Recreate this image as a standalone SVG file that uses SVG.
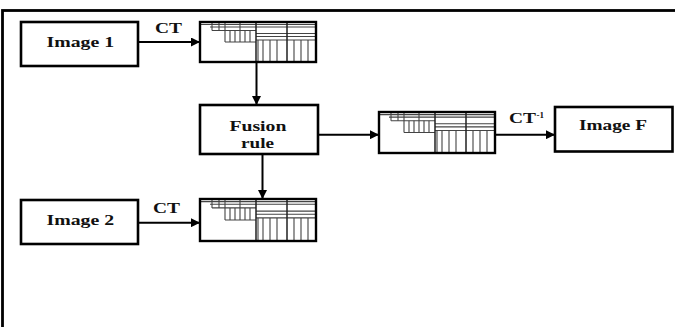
<svg xmlns="http://www.w3.org/2000/svg" xmlns:xlink="http://www.w3.org/1999/xlink" width="675" height="327" viewBox="0 0 675 327">
<style>
.box{fill:#fff;stroke:#000;stroke-width:2.6}
.tbox{fill:none;stroke:#000;stroke-width:2.4}
.g{stroke:#444;stroke-width:1.1;fill:none}
.gd{stroke:#222;stroke-width:1.5;fill:none}
.lbl{font-family:"Liberation Serif","Times New Roman",serif;font-weight:bold;font-size:15.5px;fill:#111}
.conn{stroke:#000;stroke-width:2;fill:none;marker-end:url(#ah)}
</style>
<defs>
<marker id="ah" markerUnits="userSpaceOnUse" markerWidth="9" markerHeight="9" refX="9" refY="4.5" orient="auto">
<path d="M0,0 L9,4.5 L0,9 z" fill="#000"/>
</marker>
<g id="grid">
<path class="g" d="M0,2.5H116 M10,5H116 M12,8.5H56 M56,11.5H116 M56,14.5H116 M56,18H116 M25,20H56"/>
<path class="g" d="M12,0V8.5 M19,0V8.5 M25,0V20 M30,8.5V20 M35,8.5V20 M40,0V20 M45,8.5V20 M50,8.5V20"/>
<path class="g" d="M63,18V40 M70,18V40 M77,18V40 M94,18V40 M101,18V40 M108,18V40 M58,18V40"/>
<path class="gd" d="M56,0V40 M87,0V40"/>
</g>
</defs>
<rect x="2.5" y="10.5" width="700" height="400" fill="none" stroke="#000" stroke-width="2.8"/>
<g id="connectors">
<line class="conn" x1="138" y1="42" x2="200" y2="42"/>
<line class="conn" x1="256.5" y1="62" x2="256.5" y2="105"/>
<line class="conn" x1="262.5" y1="154" x2="262.5" y2="199"/>
<line class="conn" x1="318" y1="134.7" x2="379" y2="134.7"/>
<line class="conn" x1="495" y1="134.7" x2="555" y2="134.7"/>
<line class="conn" x1="138" y1="222.7" x2="200" y2="222.7"/>
</g>
<g id="image1">
<rect class="box" x="21" y="22" width="117" height="44"/>
<text class="lbl" x="80.3" y="47" text-anchor="middle" textLength="67.6" lengthAdjust="spacingAndGlyphs">Image 1</text>
</g>
<g id="ct1-label"><text class="lbl" x="168.5" y="32.5" text-anchor="middle" textLength="27" lengthAdjust="spacingAndGlyphs">CT</text></g>
<g id="coef1">
<use xlink:href="#grid" transform="translate(200,22)"/>
<rect class="tbox" x="200" y="22" width="116" height="40"/>
</g>
<g id="fusion">
<rect class="box" x="200" y="105" width="118" height="49"/>
<text class="lbl" x="257.9" y="131" text-anchor="middle" textLength="57" lengthAdjust="spacingAndGlyphs">Fusion</text>
<text class="lbl" x="257.5" y="147.5" text-anchor="middle" textLength="33" lengthAdjust="spacingAndGlyphs">rule</text>
</g>
<g id="coef-fused">
<use xlink:href="#grid" transform="translate(379,112) scale(1,1.025)"/>
<rect class="tbox" x="379" y="112" width="116" height="41"/>
</g>
<g id="ctinv-label"><text class="lbl" x="509" y="123" textLength="27" lengthAdjust="spacingAndGlyphs">CT</text><text class="lbl" x="536.5" y="117.5" style="font-size:9px">-1</text></g>
<g id="imageF">
<rect class="box" x="555" y="107" width="117.5" height="44.5"/>
<text class="lbl" x="613" y="130" text-anchor="middle" textLength="68" lengthAdjust="spacingAndGlyphs">Image F</text>
</g>
<g id="image2">
<rect class="box" x="21" y="200" width="117" height="44"/>
<text class="lbl" x="80.3" y="225" text-anchor="middle" textLength="67.6" lengthAdjust="spacingAndGlyphs">Image 2</text>
</g>
<g id="ct2-label"><text class="lbl" x="166.5" y="212.5" text-anchor="middle" textLength="27" lengthAdjust="spacingAndGlyphs">CT</text></g>
<g id="coef2">
<use xlink:href="#grid" transform="translate(200,199) scale(1,1.05)"/>
<rect class="tbox" x="200" y="199" width="116" height="42"/>
</g>
</svg>
